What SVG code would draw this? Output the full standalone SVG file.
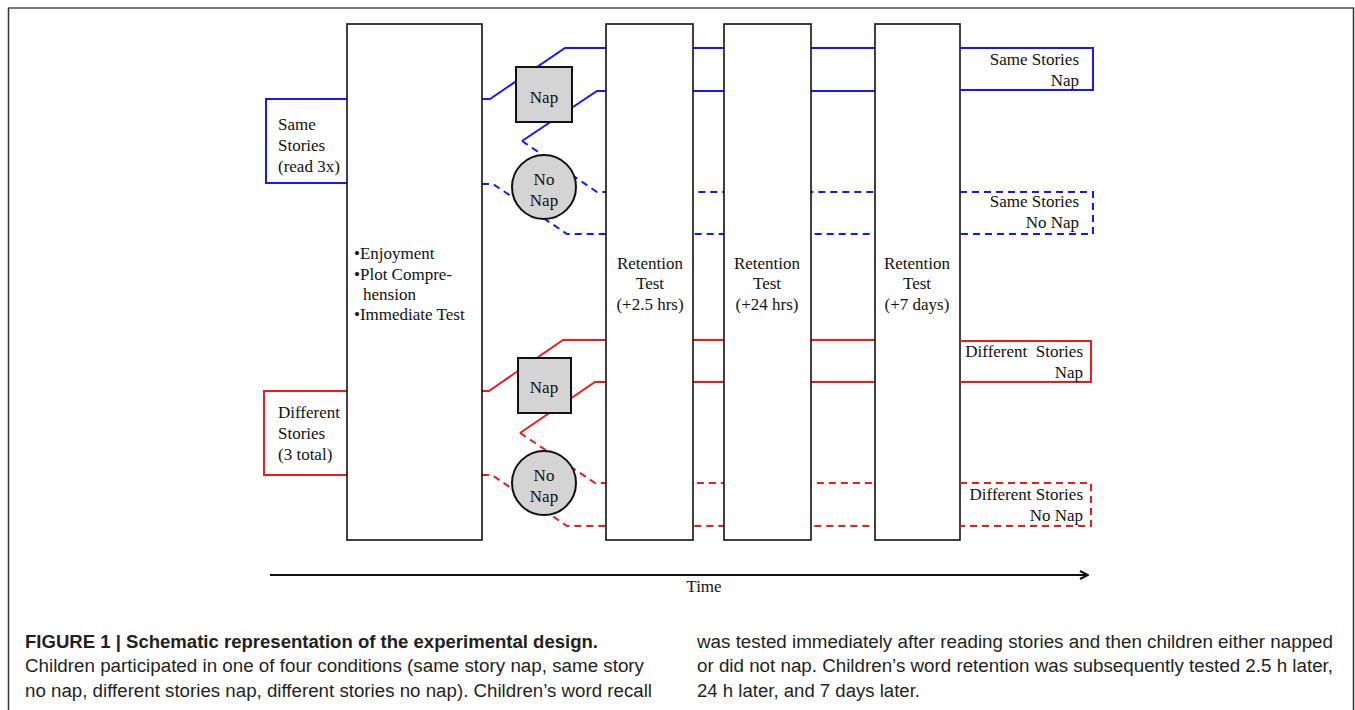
<svg xmlns="http://www.w3.org/2000/svg" width="1355" height="710" viewBox="0 0 1355 710">
<defs>
<style>
.box{fill:#fff;stroke:#111;stroke-width:1.6}
.lbl{font-family:"Liberation Serif","Times New Roman",serif;font-size:17px;fill:#111}
.mid{text-anchor:middle}
.end{text-anchor:end}
.b{fill:none;stroke:#1717ff;stroke-width:2}
.r{fill:none;stroke:#f01a1a;stroke-width:2}
.d{stroke-dasharray:7 5}
.nap{fill:#d4d4d4;stroke:#111;stroke-width:2}
.cap{font-family:"Liberation Sans",Arial,sans-serif;font-size:18px;fill:#231f20}
</style>
<marker id="arr" viewBox="0 0 10 10" refX="9" refY="5" markerWidth="10" markerHeight="10" markerUnits="userSpaceOnUse" orient="auto">
<path d="M1,1 L9,5 L1,9" fill="none" stroke="#111" stroke-width="2"/>
</marker>
</defs>
<rect width="1355" height="710" fill="#fff"/>
<g id="frame">
<line x1="8" y1="8" x2="1354" y2="8" stroke="#7a7a7a" stroke-width="2"/>
<line x1="8.5" y1="8" x2="8.5" y2="710" stroke="#333" stroke-width="1.5"/>
<line x1="1353.5" y1="8" x2="1353.5" y2="710" stroke="#333" stroke-width="1.5"/>
</g>
<g id="connectors">
<path class="b" d="M482,99 H490 L565,48 H960"/>
<path class="b" d="M522,141 L597,91 H960"/>
<path class="b d" d="M522,141 L597,192 H960"/>
<path class="b d" d="M482,184 H493 L567,234 H960"/>
<path class="r" d="M482,391 H489 L563,340 H960"/>
<path class="r" d="M520,433 L595,382 H960"/>
<path class="r d" d="M520,433 L595,483 H960"/>
<path class="r d" d="M482,475 H492 L567,526 H960"/>
<line x1="270" y1="575" x2="1088" y2="575" stroke="#111" stroke-width="2" marker-end="url(#arr)"/>
</g>
<g id="same-stories">
<path class="b" d="M347,99 H266 V183 H347"/>
<text class="lbl" x="278" y="130">Same</text>
<text class="lbl" x="278" y="151">Stories</text>
<text class="lbl" x="278" y="172">(read 3x)</text>
</g>
<g id="different-stories">
<path class="r" d="M347,391 H264 V475 H347"/>
<text class="lbl" x="278" y="418">Different</text>
<text class="lbl" x="278" y="439">Stories</text>
<text class="lbl" x="278" y="460">(3 total)</text>
</g>
<g id="session">
<rect class="box" x="347" y="24" width="135" height="516"/>
<text class="lbl" x="354" y="259">•Enjoyment</text>
<text class="lbl" x="354" y="280">•Plot Compre-</text>
<text class="lbl" x="363" y="300">hension</text>
<text class="lbl" x="354" y="320">•Immediate Test</text>
</g>
<g id="nap-same">
<rect class="nap" x="516" y="67" width="56" height="55"/>
<text class="lbl mid" x="544" y="103">Nap</text>
</g>
<g id="nonap-same">
<circle class="nap" cx="544" cy="187" r="32"/>
<text class="lbl mid" x="544" y="185">No</text>
<text class="lbl mid" x="544" y="206">Nap</text>
</g>
<g id="nap-diff">
<rect class="nap" x="518" y="358" width="53" height="55"/>
<text class="lbl mid" x="544" y="393">Nap</text>
</g>
<g id="nonap-diff">
<circle class="nap" cx="544" cy="483" r="32"/>
<text class="lbl mid" x="544" y="481">No</text>
<text class="lbl mid" x="544" y="502">Nap</text>
</g>
<g id="retention-1">
<rect class="box" x="606" y="24" width="87" height="516"/>
<text class="lbl mid" x="650" y="269">Retention</text>
<text class="lbl mid" x="650" y="289">Test</text>
<text class="lbl mid" x="650" y="310">(+2.5 hrs)</text>
</g>
<g id="retention-2">
<rect class="box" x="724" y="24" width="87" height="516"/>
<text class="lbl mid" x="767" y="269">Retention</text>
<text class="lbl mid" x="767" y="289">Test</text>
<text class="lbl mid" x="767" y="310">(+24 hrs)</text>
</g>
<g id="retention-3">
<rect class="box" x="875" y="24" width="85" height="516"/>
<text class="lbl mid" x="917" y="269">Retention</text>
<text class="lbl mid" x="917" y="289">Test</text>
<text class="lbl mid" x="917" y="310">(+7 days)</text>
</g>
<g id="out-same-nap">
<path class="b" d="M960,48 H1093 V90 H960"/>
<text class="lbl end" x="1079" y="65">Same Stories</text>
<text class="lbl end" x="1079" y="86">Nap</text>
</g>
<g id="out-same-nonap">
<path class="b d" d="M960,192 H1093 V234 H960"/>
<text class="lbl end" x="1079" y="207">Same Stories</text>
<text class="lbl end" x="1079" y="228">No Nap</text>
</g>
<g id="out-diff-nap">
<path class="r" d="M960,341 H1091 V382 H960"/>
<text class="lbl end" x="1083" y="357" style="white-space:pre" xml:space="preserve">Different  Stories</text>
<text class="lbl end" x="1083" y="378">Nap</text>
</g>
<g id="out-diff-nonap">
<path class="r d" d="M960,483 H1091 V526 H960"/>
<text class="lbl end" x="1083" y="500">Different Stories</text>
<text class="lbl end" x="1083" y="521">No Nap</text>
</g>
<g id="time-label">
<text class="lbl mid" x="704" y="592">Time</text>
</g>
<g id="caption">
<text class="cap" x="25" y="648" font-weight="bold" textLength="573" lengthAdjust="spacingAndGlyphs">FIGURE 1 | Schematic representation of the experimental design.</text>
<text class="cap" x="25" y="672" textLength="619" lengthAdjust="spacingAndGlyphs">Children participated in one of four conditions (same story nap, same story</text>
<text class="cap" x="25" y="697" textLength="627" lengthAdjust="spacingAndGlyphs">no nap, different stories nap, different stories no nap). Children’s word recall</text>
<text class="cap" x="697" y="648" textLength="636" lengthAdjust="spacingAndGlyphs">was tested immediately after reading stories and then children either napped</text>
<text class="cap" x="697" y="672" textLength="636" lengthAdjust="spacingAndGlyphs">or did not nap. Children’s word retention was subsequently tested 2.5 h later,</text>
<text class="cap" x="697" y="697" textLength="223" lengthAdjust="spacingAndGlyphs">24 h later, and 7 days later.</text>
</g>
</svg>
